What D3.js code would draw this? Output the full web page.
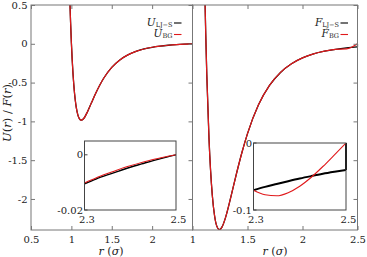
<!DOCTYPE html>
<html>
<head>
<meta charset="utf-8">
<script src="https://cdn.jsdelivr.net/npm/d3@7"></script>
<style>
body { margin: 0; background: #fff; }
svg text { fill: #222; }
</style>
</head>
<body>
<div id="chart"></div>
<script>
// left panel: potential U(r)
const rU = [0.97, 0.98, 0.99, 1.0, 1.01, 1.02, 1.03, 1.04, 1.05, 1.06, 1.08, 1.1, 1.1225, 1.15, 1.2,
            1.25, 1.3, 1.4, 1.5, 1.6, 1.7, 1.8, 1.9, 2.0, 2.1, 2.2, 2.3, 2.4, 2.5];
const uLJS = [0.979, 0.596, 0.280, 0.016, -0.202, -0.382, -0.528, -0.647, -0.741, -0.816, -0.916, -0.967, -0.984, -0.966, -0.875,
              -0.757, -0.641, -0.444, -0.304, -0.208, -0.143, -0.098, -0.067, -0.045, -0.030, -0.019, -0.0105, -0.0045, 0];
const uBG = [0.979, 0.596, 0.280, 0.016, -0.202, -0.382, -0.528, -0.647, -0.741, -0.816, -0.916, -0.967, -0.984, -0.966, -0.875,
             -0.757, -0.641, -0.444, -0.304, -0.208, -0.143, -0.098, -0.067, -0.045, -0.030, -0.019, -0.0102, -0.0040, 0];

// right panel: force F(r)
const rF = [1.10, 1.11, 1.12, 1.13, 1.15, 1.18, 1.2, 1.22, 1.2445, 1.27, 1.3, 1.35, 1.4, 1.45, 1.5,
            1.6, 1.7, 1.8, 1.9, 2.0, 2.1, 2.2, 2.3, 2.4, 2.5];
const fLJS = [1.586, 0.800, 0.146, -0.401, -1.221, -1.953, -2.210, -2.347, -2.397, -2.357, -2.241, -1.967, -1.672, -1.398, -1.158,
              -0.787, -0.537, -0.369, -0.257, -0.182, -0.130, -0.095, -0.071, -0.053, -0.040];
const fBG = [1.586, 0.800, 0.146, -0.401, -1.221, -1.953, -2.210, -2.347, -2.397, -2.357, -2.241, -1.967, -1.672, -1.398, -1.158,
             -0.787, -0.537, -0.369, -0.257, -0.182, -0.130, -0.095, -0.071, -0.066, 0];
const fCut = 0; // truncated force beyond r_c

// insets: zoom on 2.3 .. 2.5
const rZoom = [2.3, 2.325, 2.35, 2.375, 2.4, 2.425, 2.45, 2.475, 2.5];
const uLJSZoom = [-0.0105, -0.0088, -0.0073, -0.0059, -0.0045, -0.0033, -0.0021, -0.0010, 0];
const uBGZoom = [-0.0102, -0.0084, -0.0068, -0.0053, -0.0040, -0.0028, -0.0017, -0.0008, 0];
const fLJSZoom = [-0.0705, -0.0655, -0.0612, -0.0570, -0.0530, -0.0494, -0.0460, -0.0430, -0.0402];
const fBGZoom = [-0.0705, -0.0772, -0.0788, -0.0741, -0.0645, -0.0511, -0.0351, -0.0177, 0];

const leftTicksX = [0.5, 1, 1.5, 2];
const rightTicksX = [1, 1.5, 2, 2.5];
const ticksY = [-2, -1.5, -1, -0.5, 0, 0.5];
const insetTicksX = [2.3, 2.5];
const leftInsetTicksY = [-0.02, 0];
const rightInsetTicksY = [-0.1, 0];

const frameColor = "#777";
const red = "#e0191b";
const serif = "DejaVu Serif, serif";

const svg = d3.select("#chart")
  .append("svg")
  .attr("width", 367)
  .attr("height", 257)
  .attr("font-family", serif);

const yMain = d3.scaleLinear().domain([-2.4, 0.5]).range([230, 5]);
const xLeft = d3.scaleLinear().domain([0.5, 2.5]).range([31, 192.5]);
const xRight = d3.scaleLinear().domain([1, 2.5]).range([192.5, 357.5]);

const xLeftIn = d3.scaleLinear().domain([2.3, 2.5]).range([84.5, 176]);
const yLeftIn = d3.scaleLinear().domain([-0.02, 0.005]).range([210, 141]);
const xRightIn = d3.scaleLinear().domain([2.3, 2.5]).range([253.5, 346]);
const yRightIn = d3.scaleLinear().domain([-0.1, 0]).range([210, 143]);

function fmt(d) { return String(d); }

function styleAxis(g) {
  g.select(".domain").remove();
  g.attr("font-family", serif).attr("font-size", null);
  g.selectAll("line").attr("stroke", frameColor);
  g.selectAll("text").attr("font-size", 10).attr("fill", "#222");
}

function ticks(x, y, xt, yt, labelX, labelY, leftSide) {
  const [x0, x1] = x.range();
  const [y0, y1] = y.range();
  svg.append("g")
    .attr("transform", `translate(0,${y0})`)
    .call(d3.axisBottom(x).tickValues(xt).tickSizeInner(-4).tickSizeOuter(0).tickPadding(6)
      .tickFormat(labelX ? fmt : ""))
    .call(styleAxis);
  svg.append("g")
    .attr("transform", `translate(0,${y1})`)
    .call(d3.axisTop(x).tickValues(xt).tickSizeInner(-4).tickSizeOuter(0).tickFormat(""))
    .call(styleAxis);
  if (leftSide) {
    svg.append("g")
      .attr("transform", `translate(${x0},0)`)
      .call(d3.axisLeft(y).tickValues(yt).tickSizeInner(-4).tickSizeOuter(0).tickPadding(3.5)
        .tickFormat(labelY ? fmt : ""))
      .call(styleAxis);
  }
  svg.append("g")
    .attr("transform", `translate(${x1},0)`)
    .call(d3.axisRight(y).tickValues(yt).tickSizeInner(-4).tickSizeOuter(0).tickFormat(""))
    .call(styleAxis);
  svg.append("rect")
    .attr("x", x0).attr("y", y1)
    .attr("width", x1 - x0).attr("height", y0 - y1)
    .attr("fill", "none")
    .attr("stroke", frameColor)
    .attr("stroke-width", 1);
}

function clip(id, x, y) {
  svg.append("clipPath").attr("id", id)
    .append("rect")
    .attr("x", x.range()[0]).attr("y", y.range()[1])
    .attr("width", x.range()[1] - x.range()[0])
    .attr("height", y.range()[0] - y.range()[1]);
}

function curve(x, y, rs, vs, color, width, clipId) {
  const line = d3.line()
    .x(d => x(d[0]))
    .y(d => y(d[1]))
    .curve(d3.curveMonotoneX);
  svg.append("path")
    .datum(rs.map((r, i) => [r, vs[i]]))
    .attr("d", line)
    .attr("fill", "none")
    .attr("stroke", color)
    .attr("stroke-width", width)
    .attr("clip-path", `url(#${clipId})`);
}

function cutLine(x, y, r, v, color, width) {
  svg.append("line")
    .attr("x1", x(r)).attr("y1", y(v))
    .attr("x2", x(r)).attr("y2", y(fCut))
    .attr("stroke", color)
    .attr("stroke-width", width);
}

clip("clipL", xLeft, yMain);
clip("clipR", xRight, yMain);
clip("clipLI", xLeftIn, yLeftIn);
clip("clipRI", xRightIn, yRightIn);

// main panels
curve(xLeft, yMain, rU, uLJS, "#000", 1.3, "clipL");
curve(xLeft, yMain, rU, uBG, red, 1.2, "clipL");
curve(xRight, yMain, rF, fLJS, "#000", 1.3, "clipR");
cutLine(xRight, yMain, rF[rF.length - 1], fLJS[fLJS.length - 1], "#000", 1.2);
curve(xRight, yMain, rF, fBG, red, 1.2, "clipR");

ticks(xLeft, yMain, leftTicksX, ticksY, true, true, true);
ticks(xRight, yMain, rightTicksX, ticksY, true, false, false);

// insets
function inset(x, y, yt, clipId, uBlack, uRed, blackWidth, cut) {
  const [x0, x1] = x.range();
  const [y0, y1] = y.range();
  svg.append("rect")
    .attr("x", x0).attr("y", y1)
    .attr("width", x1 - x0).attr("height", y0 - y1)
    .attr("fill", "#fff");
  curve(x, y, rZoom, uBlack, "#000", blackWidth, clipId);
  if (cut) cutLine(x, y, rZoom[rZoom.length - 1], uBlack[uBlack.length - 1], "#000", blackWidth);
  curve(x, y, rZoom, uRed, red, 1.1, clipId);
  svg.append("rect")
    .attr("x", x0).attr("y", y1)
    .attr("width", x1 - x0).attr("height", y0 - y1)
    .attr("fill", "none")
    .attr("stroke", "#444")
    .attr("stroke-width", 1);
  svg.append("g").selectAll("line")
    .data(yt).enter()
    .append("line")
    .attr("x1", x0).attr("x2", x0 + 3)
    .attr("y1", d => y(d)).attr("y2", d => y(d))
    .attr("stroke", "#444");
  svg.append("g").selectAll("text")
    .data(yt).enter()
    .append("text")
    .attr("x", x0 - 1.5)
    .attr("y", d => y(d))
    .attr("dy", "0.35em")
    .attr("text-anchor", "end")
    .attr("font-size", 10)
    .text(fmt);
  svg.append("g").selectAll("text")
    .data(insetTicksX).enter()
    .append("text")
    .attr("x", d => x(d) + 2.5)
    .attr("y", y0 + 12.5)
    .attr("text-anchor", "middle")
    .attr("font-size", 10)
    .text(fmt);
}

inset(xLeftIn, yLeftIn, leftInsetTicksY, "clipLI", uLJSZoom, uBGZoom, 1.4, false);
inset(xRightIn, yRightIn, rightInsetTicksY, "clipRI", fLJSZoom, fBGZoom, 2, true);

// legends
function legend(xEnd, y, sym, sub, color) {
  const t = svg.append("text")
    .attr("x", xEnd)
    .attr("y", y)
    .attr("text-anchor", "end");
  t.append("tspan").attr("font-style", "italic").attr("font-size", 10.5).text(sym);
  t.append("tspan").attr("font-size", 6.5).attr("dy", 1).text(sub);
  svg.append("line")
    .attr("x1", xEnd + 1.5).attr("x2", xEnd + 9)
    .attr("y1", y - 2.5).attr("y2", y - 2.5)
    .attr("stroke", color)
    .attr("stroke-width", 1.1);
}

legend(172.5, 25.5, "U", "LJ\u2212S", "#000");
legend(172.5, 37, "U", "BG", red);
legend(339, 25.5, "F", "LJ\u2212S", "#000");
legend(339, 37, "F", "BG", red);

// axis titles
function xTitle(cx) {
  const t = svg.append("text")
    .attr("x", cx)
    .attr("y", 255)
    .attr("text-anchor", "middle")
    .attr("font-size", 11);
  t.append("tspan").attr("font-style", "italic").text("r");
  t.append("tspan").text(" (");
  t.append("tspan").attr("font-style", "italic").text("\u03c3");
  t.append("tspan").text(")");
}
xTitle(111);
xTitle(275);

const yt = svg.append("text")
  .attr("transform", "translate(11,113) rotate(-90)")
  .attr("text-anchor", "middle")
  .attr("font-size", 11.5);
yt.append("tspan").attr("font-style", "italic").text("U");
yt.append("tspan").text("(");
yt.append("tspan").attr("font-style", "italic").text("r");
yt.append("tspan").text(") / ");
yt.append("tspan").attr("font-style", "italic").text("F");
yt.append("tspan").text("(");
yt.append("tspan").attr("font-style", "italic").text("r");
yt.append("tspan").text(")");
</script>
</body>
</html>
